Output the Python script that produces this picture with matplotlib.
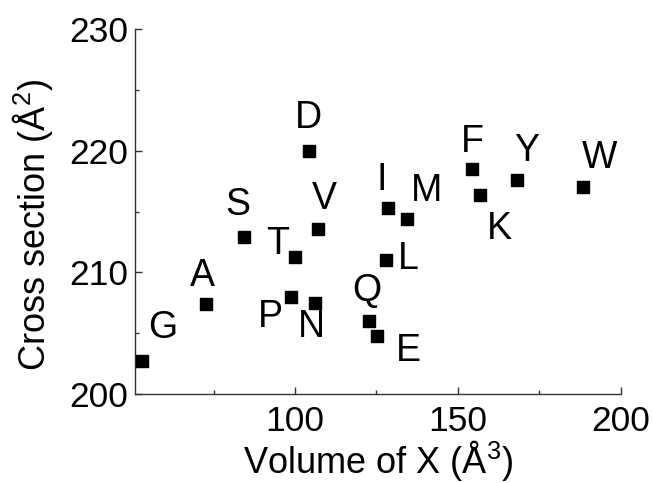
import matplotlib
matplotlib.use("Agg")
import matplotlib.pyplot as plt

plt.rcParams['font.family'] = ['Liberation Sans', 'DejaVu Sans']
plt.rcParams['mathtext.fontset'] = 'custom'
plt.rcParams['mathtext.rm'] = 'Liberation Sans'
plt.rcParams['mathtext.it'] = 'Liberation Sans:italic'

# amino acid labels, volume of X (A^3), cross section (A^2)
labels = ['G', 'A', 'S', 'T', 'P', 'N', 'D', 'V', 'Q', 'E',
          'I', 'M', 'L', 'F', 'K', 'Y', 'W']
volume = [53.1, 72.7, 84.4, 100.0, 98.8, 106.1, 104.3, 107.1, 122.7, 125.2,
          128.5, 134.4, 127.9, 154.3, 156.7, 168.1, 188.3]
cross = [202.7, 207.4, 212.9, 211.3, 208.0, 207.5, 220.0, 213.6, 206.0, 204.8,
         215.3, 214.4, 211.0, 218.5, 216.4, 217.6, 217.0]

# where each letter sits relative to its marker (pixels, y up)
offsets = {'G': (21, 33), 'A': (-4, 28), 'S': (-6, 32), 'T': (-17, 13),
           'P': (-21, -20), 'N': (-3, -24), 'D': (-1, 33), 'V': (6, 30),
           'Q': (-2, 30), 'E': (31, -15), 'I': (-6, 28), 'M': (20, 28),
           'L': (22, 1), 'F': (0, 27), 'K': (20, -34), 'Y': (10, 29),
           'W': (17, 29)}

fig = plt.figure(figsize=(6.53, 4.83), dpi=100)
ax = fig.add_axes([0.2067, 0.184, 0.744, 0.756])

ax.scatter(volume, cross, marker='s', s=68, color='black', zorder=3)
for lab, x, y in zip(labels, volume, cross):
    dx, dy = offsets[lab]
    ax.annotate(lab, (x, y), xytext=(dx, dy), textcoords='offset pixels',
                ha='center', va='center', fontsize=27)

ax.set_xlim(50.9, 200)
ax.set_ylim(200, 230)
ax.set_xticks([100, 150, 200])
ax.set_xticks([75, 125, 175], minor=True)
ax.set_yticks([200, 210, 220, 230])
ax.set_yticks([205, 215, 225], minor=True)

for s in ['top', 'right']:
    ax.spines[s].set_visible(False)
for s in ['left', 'bottom']:
    ax.spines[s].set_color('#333333')
    ax.spines[s].set_linewidth(1.0)

ax.tick_params(which='major', direction='in', length=5, width=1,
               color='#333333', labelsize=25.5)
ax.tick_params(axis='x', which='major', pad=8)
ax.tick_params(axis='y', which='major', pad=5)
ax.tick_params(which='minor', direction='in', length=3, width=1,
               color='#333333')

ax.set_xlabel(r'Volume of X (Å$^3$)', fontsize=26, labelpad=0)
ax.set_ylabel(r'Cross section (Å$^2$)', fontsize=26)
ax.yaxis.set_label_coords(-0.165, 0.464)

fig.savefig('out.png', dpi=100)
